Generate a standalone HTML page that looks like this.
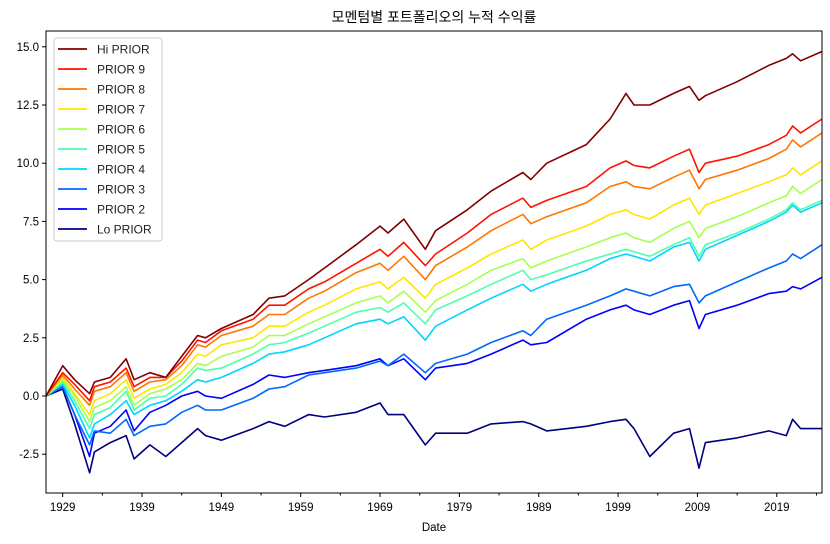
<!DOCTYPE html>
<html><head><meta charset="utf-8"><style>
body{margin:0;background:#fff;}
svg{display:block;font-family:"Liberation Sans","Noto Sans CJK KR",sans-serif;}
</style></head><body>
<svg id="chart" width="830" height="544"></svg>
<script>
const dates=[1926.9,1929,1930.5,1932.4,1933,1935,1937,1938,1940,1942,1944,1946,1947,1949,1953,1955,1957,1960,1962,1966,1969,1970,1972,1974.7,1976,1980,1983,1987,1988,1990,1995,1998,2000,2001,2003,2006,2008,2009.2,2010,2014,2018,2020.2,2021,2022,2024.7];
const seriesNames=["Hi PRIOR","PRIOR 9","PRIOR 8","PRIOR 7","PRIOR 6","PRIOR 5","PRIOR 4","PRIOR 3","PRIOR 2","Lo PRIOR"];
const seriesColors=["#800000","#ff1300","#ff7700","#ffe600","#a8ff4e","#4effab","#00d4ff","#0068ff","#0000ff","#00007f"];
const hiPrior=[0,1.3,0.7,0.1,0.6,0.8,1.6,0.7,1.0,0.8,1.7,2.6,2.5,2.9,3.5,4.2,4.3,5.0,5.5,6.5,7.3,7.0,7.6,6.3,7.1,8.0,8.8,9.6,9.3,10.0,10.8,11.9,13.0,12.5,12.5,13.0,13.3,12.7,12.9,13.5,14.2,14.5,14.7,14.4,14.8];
const prior9=[0,1.0,0.5,-0.2,0.4,0.6,1.2,0.4,0.8,0.8,1.5,2.4,2.3,2.8,3.3,3.9,3.9,4.6,4.9,5.7,6.3,6.0,6.6,5.6,6.1,7.0,7.8,8.5,8.1,8.4,9.0,9.8,10.1,9.9,9.8,10.3,10.6,9.6,10.0,10.3,10.8,11.2,11.6,11.3,11.9];
const prior8=[0,0.9,0.3,-0.4,0.2,0.4,1.0,0.2,0.6,0.7,1.3,2.2,2.1,2.6,3.0,3.5,3.5,4.2,4.5,5.3,5.7,5.4,6.0,5.0,5.6,6.4,7.1,7.8,7.4,7.7,8.3,9.0,9.2,9.0,8.9,9.4,9.7,8.9,9.3,9.7,10.2,10.6,11.0,10.7,11.3];
const prior7=[0,0.8,0.1,-0.8,-0.2,0.1,0.7,-0.1,0.3,0.5,1.0,1.8,1.7,2.2,2.5,3.0,3.0,3.6,3.9,4.6,4.9,4.6,5.1,4.2,4.8,5.5,6.1,6.7,6.3,6.7,7.3,7.8,8.0,7.8,7.6,8.2,8.5,7.8,8.2,8.7,9.2,9.5,9.8,9.5,10.1];
const prior6=[0,0.7,0,-1.1,-0.5,-0.2,0.4,-0.4,0.1,0.3,0.7,1.4,1.3,1.7,2.1,2.6,2.6,3.1,3.4,4.0,4.3,4.0,4.5,3.6,4.1,4.8,5.4,5.9,5.5,5.8,6.4,6.8,7.0,6.8,6.6,7.2,7.5,6.8,7.2,7.7,8.3,8.6,9.0,8.7,9.3];
const prior5=[0,0.6,-0.2,-1.4,-0.8,-0.5,0.2,-0.6,-0.1,0.0,0.5,1.2,1.1,1.2,1.8,2.2,2.3,2.7,3.0,3.6,3.8,3.6,4.0,3.1,3.7,4.3,4.8,5.4,5.0,5.2,5.8,6.1,6.3,6.2,6.0,6.5,6.8,6.0,6.5,7.0,7.6,8.0,8.3,8.0,8.4];
const prior4=[0,0.5,-0.4,-1.8,-1.2,-0.8,-0.2,-0.8,-0.4,-0.2,0.2,0.7,0.6,0.8,1.4,1.8,1.9,2.2,2.5,3.1,3.3,3.1,3.4,2.4,3.0,3.7,4.2,4.8,4.5,4.8,5.4,5.9,6.1,6.0,5.8,6.4,6.6,5.8,6.3,6.9,7.5,7.9,8.2,7.9,8.3];
const prior3=[0,0.4,-0.8,-2.1,-1.5,-1.6,-1.0,-1.7,-1.3,-1.2,-0.7,-0.4,-0.6,-0.6,-0.1,0.3,0.4,0.9,1.0,1.2,1.5,1.3,1.8,1.0,1.4,1.8,2.3,2.8,2.6,3.3,3.9,4.3,4.6,4.5,4.3,4.7,4.8,4.0,4.3,4.9,5.5,5.8,6.1,5.9,6.5];
const prior2=[0,0.4,-0.8,-2.6,-1.6,-1.3,-0.6,-1.5,-0.7,-0.4,0.0,0.2,0.0,-0.1,0.5,0.9,0.8,1.0,1.1,1.3,1.6,1.3,1.6,0.7,1.2,1.4,1.8,2.4,2.2,2.3,3.3,3.7,3.9,3.7,3.5,3.9,4.1,2.9,3.5,3.9,4.4,4.5,4.7,4.6,5.1];
const loPrior=[0,0.3,-1.2,-3.3,-2.4,-2.0,-1.7,-2.7,-2.1,-2.6,-2.0,-1.4,-1.7,-1.9,-1.4,-1.1,-1.3,-0.8,-0.9,-0.7,-0.3,-0.8,-0.8,-2.1,-1.6,-1.6,-1.2,-1.1,-1.2,-1.5,-1.3,-1.1,-1.0,-1.4,-2.6,-1.6,-1.4,-3.1,-2.0,-1.8,-1.5,-1.7,-1.0,-1.4,-1.4];
const seriesValues=[hiPrior,prior9,prior8,prior7,prior6,prior5,prior4,prior3,prior2,loPrior];
const yTicks=[-2.5,0,2.5,5,7.5,10,12.5,15];
const xTicks=[1929,1939,1949,1959,1969,1979,1989,1999,2009,2019];

const L=46,R=822,T=31,B=493;
const X0=1926.9,X1=2024.7;
const sx=v=>L+(v-X0)/(X1-X0)*(R-L);
const sy=v=>396-v*23.28;
const NS='http://www.w3.org/2000/svg';
const svg=document.getElementById('chart');
function mk(tag,attrs,parent){const e=document.createElementNS(NS,tag);for(const k in attrs)e.setAttribute(k,attrs[k]);(parent||svg).appendChild(e);return e;}

const title=mk('text',{x:434,y:22,'text-anchor':'middle','font-size':14,fill:'#000'});
title.textContent='모멘텀별 포트폴리오의 누적 수익률';



// series
const g=mk('g',{});


for(let s=seriesValues.length-1;s>=0;s--){
  const vals=seriesValues[s];
  const d=vals.map((v,i)=>(i?'L':'M')+sx(dates[i]).toFixed(1)+','+sy(v).toFixed(1)).join('');
  const p=mk('path',{d:d,fill:'none',stroke:seriesColors[s],'stroke-width':1.6,'stroke-linejoin':'round'},g);
  
  
}

// axes frame
const frame=mk('rect',{x:L,y:T,width:R-L,height:B-T,fill:'none',stroke:'#000','stroke-width':1});



yTicks.forEach(v=>{
  const y=sy(v);
  mk('line',{x1:L-4,x2:L,y1:y,y2:y,stroke:'#000'});
  const t=mk('text',{x:L-7,y:y+4,'text-anchor':'end','font-size':11.5,fill:'#000'});
  t.textContent=v.toFixed(1);
  
  
});
for(let yr=1929;yr<=2024;yr+=5){
  const x=sx(yr);
  const major=xTicks.includes(yr);
  mk('line',{x1:x,x2:x,y1:B,y2:B+(major?4:2.5),stroke:'#000'});
}
xTicks.forEach(yr=>{
  const t=mk('text',{x:sx(yr),y:B+18,'text-anchor':'middle','font-size':11.5,fill:'#000'});
  t.textContent=yr;
  
  
});
const xl=mk('text',{x:434,y:531,'text-anchor':'middle','font-size':11.5,fill:'#000'});
xl.textContent='Date';



// legend
const lg=mk('g',{});


mk('rect',{x:54,y:38,width:108,height:203,rx:3,fill:'#fff','fill-opacity':0.85,stroke:'#ccc'},lg);
seriesNames.forEach((n,i)=>{
  const y=49+i*20;
  const e=mk('g',{},lg);
  
  
  mk('line',{x1:58,x2:87,y1:y,y2:y,stroke:seriesColors[i],'stroke-width':1.8},e);
  const t=mk('text',{x:97,y:y+4.5,'font-size':12,fill:'#222'},e);
  t.textContent=n;
});
</script>
</body></html>
